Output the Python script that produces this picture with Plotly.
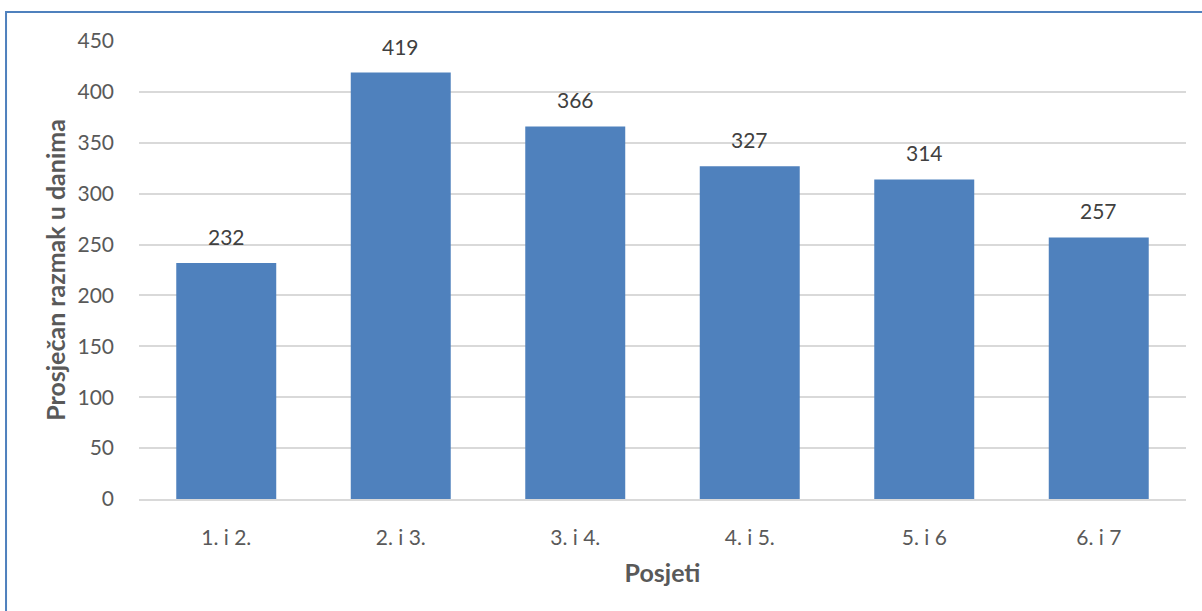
import plotly.graph_objects as go

categories = ["1. i 2.", "2. i 3.", "3. i 4.", "4. i 5.", "5. i 6", "6. i 7"]
values = [232, 419, 366, 327, 314, 257]
y_ticks = [0, 50, 100, 150, 200, 250, 300, 350, 400, 450]

FONT = "Lato, 'Open Sans', sans-serif"
fig = go.Figure()
fig.add_trace(go.Bar(
    x=categories, y=values, marker=dict(color="#4F81BD", line=dict(width=0)),
    width=0.573, hoverinfo="x+y",
))
for c, v in zip(categories, values):
    fig.add_annotation(x=c, y=v, text=str(v), showarrow=False, yanchor="bottom",
                       yshift=12, font=dict(family=FONT, size=21, color="#404040"))

fig.add_shape(type="rect", xref="paper", yref="paper",
              x0=-0.127, x1=1.05, y0=-0.35, y1=1.0633,
              line=dict(color="#4F81BD", width=2), fillcolor="rgba(0,0,0,0)")

fig.update_layout(
    width=1202, height=611,
    margin=dict(l=139, r=16, t=41, b=112),
    paper_bgcolor="white", plot_bgcolor="white",
    showlegend=False,
    font=dict(family=FONT, color="#595959"),
    bargap=0.427,
)
fig.update_yaxes(range=[0, 450], tickvals=y_ticks, showgrid=True, gridcolor="#d9d9d9",
                 gridwidth=1.5, zeroline=False, showline=False,
                 tickfont=dict(size=21, color="#595959"), ticks="", ticklabelstandoff=24,
                 title=dict(text="<b>Prosječan razmak u danima</b>", font=dict(size=25, color="#595959"), standoff=4))
fig.update_xaxes(showline=True, linecolor="#d9d9d9", linewidth=1.5, ticks="",
                 tickfont=dict(size=21, color="#595959"), ticklabelstandoff=19,
                 title=dict(text="<b>Posjeti</b>", font=dict(size=25, color="#595959"), standoff=17))
fig.write_html("out.html", config={"displayModeBar": False},
               post_script="document.body.style.margin='0';")
